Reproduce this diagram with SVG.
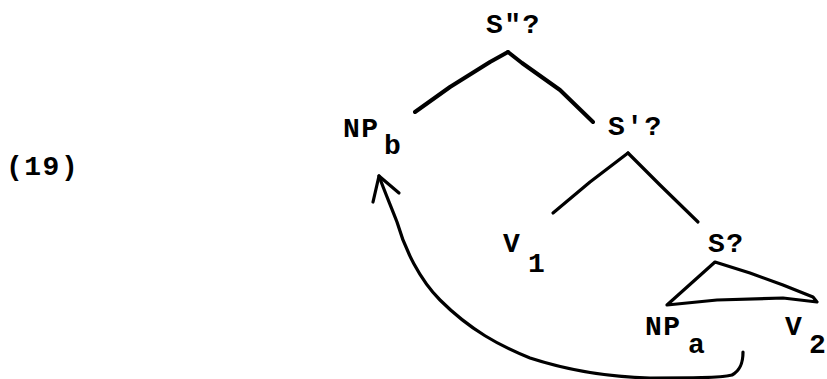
<svg xmlns="http://www.w3.org/2000/svg" width="827" height="379" viewBox="0 0 827 379">
<style>
text{font-family:"Liberation Mono","DejaVu Sans Mono",monospace;font-size:28px;font-weight:bold;fill:#000;letter-spacing:1.5px}
.e{fill:none;stroke:#000;stroke-width:3.2;stroke-linecap:round;stroke-linejoin:round}
.t{stroke-width:4}
</style>
<rect width="827" height="379" fill="#fff"/>
<g id="label19"><text x="6" y="175">(19)</text></g>
<g id="Sdd"><text x="486" y="33">S"?</text></g>
<g id="NPb"><text x="343" y="137">NP</text><text x="384" y="154">b</text></g>
<g id="Sd"><text x="608" y="135">S'?</text></g>
<g id="V1"><text x="503" y="252">V</text><text x="528" y="272">1</text></g>
<g id="S"><text x="708" y="252">S?</text></g>
<g id="NPa"><text x="645" y="335">NP</text><text x="688" y="353">a</text></g>
<g id="V2"><text x="785" y="335">V</text><text x="809" y="353">2</text></g>
<g id="connectors">
<polyline class="e t" points="415,112 450,87 490,62 508,52"/>
<polyline class="e t" points="508,52 522,63 560,90 593,122"/>
<polyline class="e" points="553,213 590,182 628,153"/>
<polyline class="e" points="628,153 660,185 698,222"/>
<path class="e" d="M667,305 L715,262 L750,273 L783,285 L813,297 L817,302 L783,298 L717,300 Z"/>
<path class="e" d="M743,352 C743,362 741,370 732,375 C720,378 690,378 650,378 C610,377 570,371 530,358 C500,346 470,330 440,300 C420,280 405,250 397,222 C390,204 384,190 379,176"/>
<polyline class="e" points="373,202 379,176 399,193"/>
</g>
</svg>
